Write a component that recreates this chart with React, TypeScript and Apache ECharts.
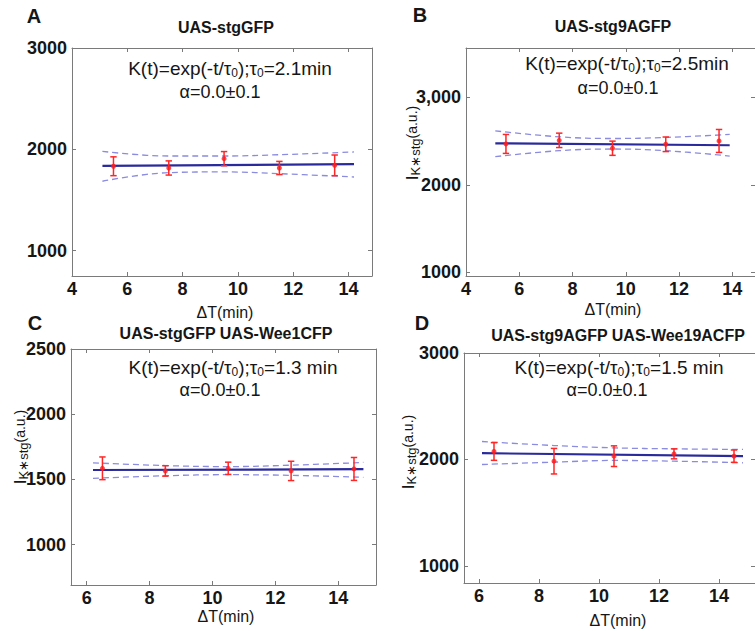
import React, { useEffect, useRef } from 'react';
import * as echarts from 'echarts';

const FONT = '"Liberation Sans", Arial, Helvetica, sans-serif';

// ---------- Panel A : UAS-stgGFP ----------
const xA = [5.5, 7.5, 9.5, 11.5, 13.5];
const meanA = [1833, 1816, 1908, 1816, 1842];
const errA = [93, 70, 70, 65, 102];
const fitXA = [5.1, 14.2];
const fitYA = [1836, 1855];
const bandXA = [5.1, 7.5, 9.5, 11.5, 14.2];
const upperA = [1980, 1934, 1934, 1947, 1974];
const lowerA = [1685, 1770, 1777, 1760, 1727];

// ---------- Panel B : UAS-stg9AGFP ----------
const xB = [5.5, 7.5, 9.5, 11.5, 13.5];
const meanB = [2466, 2507, 2417, 2462, 2500];
const errB = [108, 82, 81, 83, 131];
const fitXB = [5.1, 13.9];
const fitYB = [2473, 2451];
const bandXB = [5.1, 7.5, 9.5, 11.5, 13.9];
const upperB = [2615, 2547, 2528, 2540, 2574];
const lowerB = [2321, 2389, 2408, 2389, 2328];

// ---------- Panel C : UAS-stgGFP UAS-Wee1CFP ----------
const xC = [6.5, 8.5, 10.5, 12.5, 14.5];
const meanC = [1585, 1565, 1585, 1565, 1580];
const errC = [87, 40, 47, 74, 88];
const fitXC = [6.2, 14.8];
const fitYC = [1572, 1578];
const bandXC = [6.2, 8.5, 10.5, 12.5, 14.8];
const upperC = [1627, 1606, 1598, 1609, 1630];
const lowerC = [1508, 1528, 1536, 1531, 1516];

// ---------- Panel D : UAS-stg9AGFP UAS-Wee19ACFP ----------
const xD = [6.5, 8.5, 10.5, 12.5, 14.5];
const meanD = [2075, 1984, 2031, 2053, 2031];
const errD = [83, 120, 97, 47, 58];
const fitXD = [6.1, 14.8];
const fitYD = [2059, 2031];
const bandXD = [6.1, 8.5, 10.5, 12.5, 14.8];
const upperD = [2169, 2131, 2109, 2100, 2094];
const lowerD = [1953, 1975, 1991, 1984, 1969];

// ---------- Ticks / texts ----------
const xTicksAB = [4, 6, 8, 10, 12, 14];
const xTicksCD = [6, 8, 10, 12, 14];
const yTicksA = [1000, 2000, 3000];
const yTickLabelsA = ['1000', '2000', '3000'];
const yTicksB = [1000, 2000, 3000];
const yTickLabelsB = ['1000', '2000', '3,000'];
const yTicksC = [1000, 1500, 2000, 2500];
const yTickLabelsC = ['1000', '1500', '2000', '2500'];
const yTicksD = [1000, 2000, 3000];
const yTickLabelsD = ['1000', '2000', '3000'];

const letters = ['A', 'B', 'C', 'D'];
const titles = ['UAS-stgGFP', 'UAS-stg9AGFP', 'UAS-stgGFP UAS-Wee1CFP', 'UAS-stg9AGFP UAS-Wee19ACFP'];
const tauValues = ['2.1min', '2.5min', '1.3 min', '1.5 min'];
const alphaText = 'α=0.0±0.1';
const xName = 'ΔT(min)';

const panels = [
  {
    x: xA, mean: meanA, err: errA, fitX: fitXA, fitY: fitYA, bandX: bandXA, up: upperA, lo: lowerA,
    grid: { left: 72, top: 48, width: 300, height: 228 }, xr: [4, 14.85], yr: [750, 3000],
    xt: xTicksAB, yt: yTicksA, ytl: yTickLabelsA,
    letterPos: [34, 16], titlePos: [226, 27], kPos: [230, 68], aPos: [220, 92], xnPos: [225, 312], ynPos: null,
  },
  {
    x: xB, mean: meanB, err: errB, fitX: fitXB, fitY: fitYB, bandX: bandXB, up: upperB, lo: lowerB,
    grid: { left: 466, top: 48, width: 298, height: 228 }, xr: [4, 14.85], yr: [960, 3560],
    xt: xTicksAB, yt: yTicksB, ytl: yTickLabelsB,
    letterPos: [420, 15], titlePos: [613, 26], kPos: [627, 63], aPos: [618, 88], xnPos: [613, 309], ynPos: [412, 143],
  },
  {
    x: xC, mean: meanC, err: errC, fitX: fitXC, fitY: fitYC, bandX: bandXC, up: upperC, lo: lowerC,
    grid: { left: 71, top: 349, width: 305, height: 236 }, xr: [5.5, 15.2], yr: [690, 2500],
    xt: xTicksCD, yt: yTicksC, ytl: yTickLabelsC,
    letterPos: [35, 323], titlePos: [226, 333], kPos: [233, 367], aPos: [220, 390], xnPos: [226, 616], ynPos: [20, 447],
  },
  {
    x: xD, mean: meanD, err: errD, fitX: fitXD, fitY: fitYD, bandX: bandXD, up: upperD, lo: lowerD,
    grid: { left: 464, top: 353, width: 293, height: 230 }, xr: [5.5, 15.2], yr: [840, 3000],
    xt: xTicksCD, yt: yTicksD, ytl: yTickLabelsD,
    letterPos: [422, 323], titlePos: [618, 335], kPos: [619, 367], aPos: [607, 390], xnPos: [618, 620], ynPos: [408, 452],
  },
];

const AXIS_COLOR = '#7a7a7a';
const TEXT_COLOR = '#161616';

function textEl(x: number, y: number, text: string, style: any, extra: any = {}) {
  return {
    type: 'text',
    x,
    y,
    silent: true,
    ...extra,
    style: {
      text,
      fill: TEXT_COLOR,
      fontFamily: FONT,
      align: 'center',
      verticalAlign: 'middle',
      textAlign: 'center',
      textVerticalAlign: 'middle',
      ...style,
    },
  };
}

function buildOption() {
  const grids: any[] = [];
  const xAxes: any[] = [];
  const yAxes: any[] = [];
  const series: any[] = [];
  const graphics: any[] = [];

  panels.forEach((p, i) => {
    grids.push({ ...p.grid, containLabel: false });
    const common = {
      gridIndex: i,
      type: 'value',
      axisLine: { show: true, onZero: false, lineStyle: { color: AXIS_COLOR, width: 1 } },
      splitLine: { show: false },
    };
    const labelStyle = {
      fontSize: 18,
      fontWeight: 'bold',
      color: TEXT_COLOR,
      fontFamily: FONT,
    };
    xAxes.push({
      ...common,
      position: 'bottom',
      min: p.xr[0],
      max: p.xr[1],
      axisTick: { show: true, inside: true, length: 4, customValues: p.xt, lineStyle: { color: AXIS_COLOR } },
      axisLabel: { ...labelStyle, margin: 4, customValues: p.xt },
    });
    xAxes.push({
      ...common,
      position: 'top',
      min: p.xr[0],
      max: p.xr[1],
      axisTick: { show: true, inside: true, length: 4, customValues: p.xt, lineStyle: { color: AXIS_COLOR } },
      axisLabel: { show: false },
    });
    const ytl = p.ytl;
    const yt = p.yt;
    yAxes.push({
      ...common,
      position: 'left',
      min: p.yr[0],
      max: p.yr[1],
      axisTick: { show: true, inside: true, length: 4, customValues: yt, lineStyle: { color: AXIS_COLOR } },
      axisLabel: {
        ...labelStyle,
        margin: 5,
        customValues: yt,
        formatter: (v: number) => {
          const k = yt.indexOf(v);
          return k >= 0 ? ytl[k] : String(v);
        },
      },
    });
    yAxes.push({
      ...common,
      position: 'right',
      min: p.yr[0],
      max: p.yr[1],
      axisTick: { show: true, inside: true, length: 4, customValues: yt, lineStyle: { color: AXIS_COLOR } },
      axisLabel: { show: false },
    });

    const xi = 2 * i;
    const yi = 2 * i;

    series.push({
      type: 'line',
      xAxisIndex: xi,
      yAxisIndex: yi,
      data: p.bandX.map((x, k) => [x, p.up[k]]),
      smooth: 0.4,
      symbol: 'none',
      silent: true,
      lineStyle: { color: '#8b8be0', width: 1.3, type: [6, 4] },
      z: 2,
    });
    series.push({
      type: 'line',
      xAxisIndex: xi,
      yAxisIndex: yi,
      data: p.bandX.map((x, k) => [x, p.lo[k]]),
      smooth: 0.4,
      symbol: 'none',
      silent: true,
      lineStyle: { color: '#8b8be0', width: 1.3, type: [6, 4] },
      z: 2,
    });
    series.push({
      type: 'line',
      xAxisIndex: xi,
      yAxisIndex: yi,
      data: p.fitX.map((x, k) => [x, p.fitY[k]]),
      symbol: 'none',
      silent: true,
      lineStyle: { color: '#2a2a9c', width: 2.2 },
      z: 3,
    });
    series.push({
      type: 'custom',
      xAxisIndex: xi,
      yAxisIndex: yi,
      coordinateSystem: 'cartesian2d',
      encode: { x: 0, y: [1, 2] },
      data: p.x.map((x, k) => [x, p.mean[k] - p.err[k], p.mean[k] + p.err[k]]),
      silent: true,
      z: 4,
      renderItem: (params: any, api: any) => {
        const xv = api.value(0);
        const lo = api.value(1);
        const hi = api.value(2);
        const a = api.coord([xv, hi]);
        const b = api.coord([xv, lo]);
        const w = 3.2;
        const style = { stroke: '#ff2626', lineWidth: 1.5 };
        return {
          type: 'group',
          children: [
            { type: 'line', shape: { x1: a[0], y1: a[1], x2: b[0], y2: b[1] }, style },
            { type: 'line', shape: { x1: a[0] - w, y1: a[1], x2: a[0] + w, y2: a[1] }, style },
            { type: 'line', shape: { x1: b[0] - w, y1: b[1], x2: b[0] + w, y2: b[1] }, style },
          ],
        };
      },
    });
    series.push({
      type: 'scatter',
      xAxisIndex: xi,
      yAxisIndex: yi,
      data: p.x.map((x, k) => [x, p.mean[k]]),
      symbol: 'circle',
      symbolSize: 5,
      silent: true,
      itemStyle: { color: '#ff1a1a' },
      z: 5,
    });

    // texts
    graphics.push(textEl(p.letterPos[0], p.letterPos[1], letters[i], { fontSize: 20, fontWeight: 'bold' }));
    graphics.push(textEl(p.titlePos[0], p.titlePos[1], titles[i], { fontSize: 16, fontWeight: 'bold' }));
    graphics.push(
      textEl(p.kPos[0], p.kPos[1], `{m|K(t)=exp(-t/τ}{s|0}{m|);τ}{s|0}{m|=${tauValues[i]}}`, {
        rich: {
          m: { fontSize: 19, fontFamily: FONT, fill: TEXT_COLOR, color: TEXT_COLOR, lineHeight: 22 },
          s: { fontSize: 12, fontFamily: FONT, fill: TEXT_COLOR, color: TEXT_COLOR, lineHeight: 4, verticalAlign: 'bottom' },
        },
      })
    );
    graphics.push(textEl(p.aPos[0], p.aPos[1], alphaText, { fontSize: 18 }));
    graphics.push(textEl(p.xnPos[0], p.xnPos[1], xName, { fontSize: 16 }));
    if (p.ynPos) {
      graphics.push(
        textEl(p.ynPos[0], p.ynPos[1], '{a|I}{b|K∗stg}{c|(a.u.)}', {
          rich: {
            a: { fontSize: 17, fontFamily: FONT, fill: TEXT_COLOR, color: TEXT_COLOR, lineHeight: 20 },
            b: { fontSize: 13, fontFamily: FONT, fill: TEXT_COLOR, color: TEXT_COLOR, lineHeight: 2, verticalAlign: 'bottom' },
            c: { fontSize: 14, fontFamily: FONT, fill: TEXT_COLOR, color: TEXT_COLOR, lineHeight: 20 },
          },
        }, { rotation: Math.PI / 2 })
      );
    }
  });

  return {
    animation: false,
    backgroundColor: '#ffffff',
    grid: grids,
    xAxis: xAxes,
    yAxis: yAxes,
    series,
    graphic: { elements: graphics },
  };
}

export default function App() {
  const ref = useRef<HTMLDivElement>(null);
  useEffect(() => {
    document.body.style.margin = '0';
    if (!ref.current) return;
    const chart = echarts.init(ref.current, undefined, { renderer: 'svg' });
    chart.setOption(buildOption() as any);
    return () => {
      chart.dispose();
    };
  }, []);
  return <div ref={ref} style={{ width: 755, height: 631, background: '#fff' }} />;
}
